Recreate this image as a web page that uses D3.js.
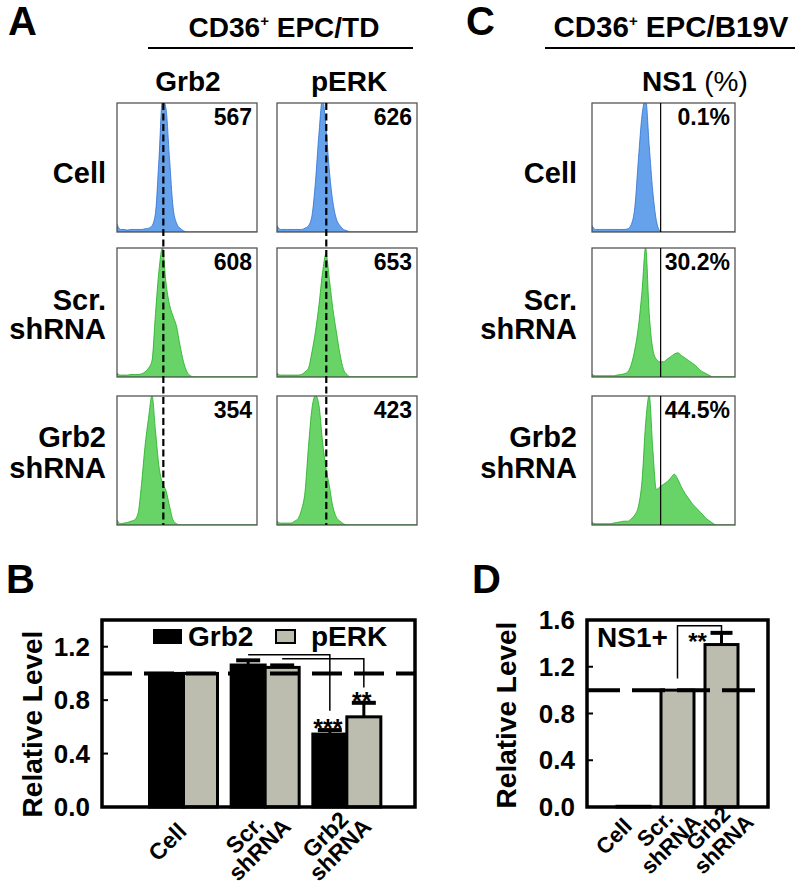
<!DOCTYPE html>
<html><head><meta charset="utf-8">
<script src="https://cdn.jsdelivr.net/npm/d3@7"></script>
<style>
body{margin:0;background:#fff}
svg text{font-family:"Liberation Sans",Arial,sans-serif;font-weight:bold;fill:#000}
</style>
</head><body>
<svg id="c" width="800" height="885"></svg>
<script>
// ---------- DATA ----------
// Flow-cytometry histograms: relative event counts on a 41-point grid across each panel (0..1)
const grb2Cell = [0.06,0.02,0.02,0.015,0.02,0.02,0.02,0.02,0.025,0.03,0.05,0.15,0.58,1.05,0.97,0.58,0.2,0.07,0.03,0.01,0,0,0,0,0,0,0,0,0,0,0,0,0,0,0,0,0,0,0,0,0];
const perkCell = [0.05,0.02,0.02,0.02,0.02,0.02,0.02,0.02,0.03,0.05,0.13,0.4,0.78,1.05,0.82,0.47,0.23,0.1,0.05,0.02,0.01,0,0,0,0,0,0,0,0,0,0,0,0,0,0,0,0,0,0,0,0];
const grb2Scr  = [0.03,0.015,0.015,0.015,0.02,0.02,0.02,0.025,0.04,0.07,0.13,0.5,0.84,1.02,0.74,0.57,0.48,0.4,0.25,0.12,0.04,0.01,0,0,0,0,0,0,0,0,0,0,0,0,0,0,0,0,0,0,0];
const perkScr  = [0.03,0.015,0.015,0.015,0.015,0.015,0.015,0.02,0.04,0.07,0.2,0.36,0.57,0.82,0.97,0.76,0.53,0.35,0.18,0.06,0.02,0,0,0,0,0,0,0,0,0,0,0,0,0,0,0,0,0,0,0,0];
const grb2Sh   = [0.04,0.01,0.015,0.02,0.03,0.04,0.09,0.32,0.62,0.84,1.02,0.74,0.46,0.33,0.27,0.15,0.04,0.01,0,0,0,0,0,0,0,0,0,0,0,0,0,0,0,0,0,0,0,0,0,0,0];
const perkSh   = [0.03,0.015,0.015,0.015,0.015,0.03,0.05,0.12,0.26,0.62,0.92,1.02,0.94,0.66,0.45,0.3,0.14,0.06,0.03,0.01,0,0,0,0,0,0,0,0,0,0,0,0,0,0,0,0,0,0,0,0,0];
const ns1Cell  = [0.05,0.02,0.02,0.02,0.02,0.02,0.02,0.02,0.02,0.02,0.025,0.06,0.2,0.58,0.92,1.05,0.68,0.32,0.09,0.01,0,0,0,0,0,0,0,0,0,0,0,0,0,0,0,0,0,0,0,0,0];
const ns1Scr   = [0.02,0.01,0.01,0.01,0.01,0.01,0.01,0.015,0.02,0.025,0.04,0.1,0.22,0.4,0.68,1.02,0.5,0.22,0.14,0.12,0.12,0.14,0.16,0.18,0.19,0.17,0.15,0.13,0.11,0.09,0.06,0.04,0.025,0.01,0,0,0,0,0,0,0];
const ns1Sh    = [0.02,0.01,0.01,0.01,0.01,0.01,0.015,0.02,0.025,0.03,0.03,0.05,0.08,0.15,0.35,0.8,1.02,0.6,0.28,0.3,0.32,0.34,0.37,0.4,0.36,0.3,0.25,0.21,0.17,0.14,0.11,0.08,0.05,0.03,0.01,0,0,0,0,0,0];

const rowLabels = [["Cell"],["Scr.","shRNA"],["Grb2","shRNA"]];
const mfiGrb2 = ["567","608","354"];
const mfiPerk = ["626","653","423"];
const ns1Pct  = ["0.1%","30.2%","44.5%"];
const refPeakU = [0.331, 0.352];   // dashed reference (cell peak) positions, Grb2 / pERK
const ns1GateU = 0.48;             // NS1 positive gate

// Bar charts
const barCats = ["Cell","Scr. shRNA","Grb2 shRNA"];
const barCatLines = [["Cell"],["Scr.","shRNA"],["Grb2","shRNA"]];
const grb2Level = [1.0, 1.063, 0.546];
const grb2Err   = [0, 0.035, 0.03];
const perkLevel = [1.0, 1.045, 0.675];
const perkErr   = [0, 0.015, 0.105];
const ns1Level  = [0.006, 1.0, 1.39];
const ns1Err    = [0, 0, 0.10];
const yTicksB = [0, 0.4, 0.8, 1.2];
const yTicksD = [0, 0.4, 0.8, 1.2, 1.6];

// ---------- DRAW ----------
const svg = d3.select("#c");
const histU = d3.range(41).map(i => i / 40);
const BLUE = "#66a2ec", BLUE_S = "#2f6fd0", GREEN = "#68d468", GREEN_S = "#1fae1f";
const GREY = "#bcbcaf";
let clipN = 0;

function histogram(x0, y0, w, h, vals, fill, stroke) {
  const id = "clip" + (clipN++);
  svg.append("clipPath").attr("id", id).append("rect").attr("x", x0).attr("y", y0).attr("width", w).attr("height", h);
  const x = d3.scaleLinear().domain([0, 1]).range([x0, x0 + w]);
  const y = d3.scaleLinear().domain([0, 1]).range([y0 + h, y0 + 2]);
  const area = d3.area().x((d, i) => x(histU[i])).y0(y(0)).y1(d => y(d)).curve(d3.curveMonotoneX);
  const g = svg.append("g").attr("clip-path", `url(#${id})`);
  g.append("path").datum(vals).attr("d", area).attr("fill", fill).attr("stroke", stroke).attr("stroke-width", 0.8);
  svg.append("rect").attr("x", x0).attr("y", y0).attr("width", w).attr("height", h)
    .attr("fill", "none").attr("stroke", "#555").attr("stroke-width", 1.3);
  return x;
}

const rowsY = [103, 248, 396], boxH = 129;
const colA = [117, 277], boxW = 140;
const colC = 592, boxWC = 143;
const rowLabelBase = [[183], [310, 339], [447, 478]];

// Panel letters
[["A", 8, 35], ["C", 466, 35], ["B", 6, 593], ["D", 472, 593]].forEach(([t, x, y]) =>
  svg.append("text").attr("x", x).attr("y", y).attr("font-size", 40).text(t));

// Titles
function title(cx, y, rest, x1, x2, fs) {
  const t = svg.append("text").attr("x", cx).attr("y", y).attr("text-anchor", "middle").attr("font-size", fs);
  t.append("tspan").text("CD36");
  t.append("tspan").attr("dy", -11).attr("font-size", 15).text("+");
  t.append("tspan").attr("dy", 11).text(" " + rest);
  svg.append("line").attr("x1", x1).attr("x2", x2).attr("y1", 48).attr("y2", 48).attr("stroke", "#000").attr("stroke-width", 2.2);
}
title(284, 37, "EPC/TD", 148, 413, 28);
title(671, 37, "EPC/B19V", 545, 795, 29.5);

svg.append("text").attr("x", 188).attr("y", 91).attr("text-anchor", "middle").attr("font-size", 28).text("Grb2");
svg.append("text").attr("x", 349).attr("y", 91).attr("text-anchor", "middle").attr("font-size", 28).text("pERK");
const ns1T = svg.append("text").attr("x", 642).attr("y", 91).attr("font-size", 28);
ns1T.append("tspan").text("NS1");
ns1T.append("tspan").attr("font-weight", "normal").text(" (%)");

// Row labels
function rowLabel(xr, i) {
  rowLabels[i].forEach((l, j) => svg.append("text").attr("x", xr).attr("y", rowLabelBase[i][j])
    .attr("text-anchor", "end").attr("font-size", 29).text(l));
}

const histA = [[grb2Cell, perkCell], [grb2Scr, perkScr], [grb2Sh, perkSh]];
const histC = [ns1Cell, ns1Scr, ns1Sh];
const scalesA = [];
rowsY.forEach((ry, r) => {
  rowLabel(106, r);
  rowLabel(577, r);
  const fill = r === 0 ? BLUE : GREEN, st = r === 0 ? BLUE_S : GREEN_S;
  colA.forEach((cx, c) => {
    const x = histogram(cx, ry, boxW, boxH, histA[r][c], fill, st);
    scalesA[c] = x;
    svg.append("text").attr("x", cx + boxW - 5).attr("y", ry + 22).attr("text-anchor", "end")
      .attr("font-size", 23).text(c === 0 ? mfiGrb2[r] : mfiPerk[r]);
  });
  const xc = histogram(colC, ry, boxWC, boxH, histC[r], fill, st);
  svg.append("line").attr("x1", xc(ns1GateU)).attr("x2", xc(ns1GateU)).attr("y1", ry).attr("y2", ry + boxH)
    .attr("stroke", "#000").attr("stroke-width", 1.2);
  svg.append("text").attr("x", colC + boxWC - 5).attr("y", ry + 22).attr("text-anchor", "end")
    .attr("font-size", 23).text(ns1Pct[r]);
});
// dashed reference lines in A
colA.forEach((cx, c) => {
  const xv = scalesA[c](refPeakU[c]);
  svg.append("line").attr("x1", xv).attr("x2", xv).attr("y1", rowsY[0]).attr("y2", rowsY[2] + boxH)
    .attr("stroke", "#000").attr("stroke-width", 2.2).attr("stroke-dasharray", "7,3.5");
});

// ---------- Bar panel helper ----------
function barPanel(o) {
  const y = d3.scaleLinear().domain(o.domain).range([807, 620]);
  const g = svg.append("g");
  o.ticks.forEach(t => {
    g.append("text").attr("x", o.x0 - 12).attr("y", y(t) + 9).attr("text-anchor", "end")
      .attr("font-size", 26).text(d3.format(".1f")(t));
    g.append("line").attr("x1", o.x0).attr("x2", o.x0 + 6).attr("y1", y(t)).attr("y2", y(t))
      .attr("stroke", "#000").attr("stroke-width", 2);
  });
  g.append("text").attr("transform", `translate(${o.labelX},${o.labelY}) rotate(-90)`)
    .attr("text-anchor", "middle").attr("font-size", 28).text("Relative Level");
  return y;
}
function xLabels(pos, yy, size, gap) {
  barCats.forEach((c, i) => {
    const lines = barCatLines[i];
    const g = svg.append("g").attr("transform", `translate(${pos(c, i)},${yy}) rotate(-45)`);
    lines.forEach((l, j) => g.append("text").attr("x", 0)
      .attr("y", lines.length === 1 ? 8 : 8 - gap / 2 + j * gap).attr("text-anchor", "middle").attr("font-size", size).text(l));
  });
}

// ---------- Panel B ----------
const xB = d3.scaleBand().domain(barCats).range([142.5, 387.5]).padding(0);
const subB = d3.scaleBand().domain(["Grb2", "pERK"]).range([7, 75]).padding(0);
const yB = barPanel({domain: [0, 1.4], ticks: yTicksB, x0: 102, labelX: 42, labelY: 724});
const seriesB = [["Grb2", grb2Level, grb2Err, "#000"], ["pERK", perkLevel, perkErr, GREY]];
seriesB.forEach(([name, vals, errs, fill]) => {
  barCats.forEach((c, i) => {
    const bx = xB(c) + subB(name), bw = subB.bandwidth();
    svg.append("rect").attr("x", bx).attr("y", yB(vals[i])).attr("width", bw).attr("height", yB(0) - yB(vals[i]))
      .attr("fill", fill).attr("stroke", "#000").attr("stroke-width", 3);
    if (errs[i] > 0) {
      const cxm = bx + bw / 2;
      svg.append("line").attr("x1", cxm).attr("x2", cxm).attr("y1", yB(vals[i])).attr("y2", yB(vals[i] + errs[i]))
        .attr("stroke", "#000").attr("stroke-width", 3);
      svg.append("line").attr("x1", cxm - 12).attr("x2", cxm + 12).attr("y1", yB(vals[i] + errs[i])).attr("y2", yB(vals[i] + errs[i]))
        .attr("stroke", "#000").attr("stroke-width", 4);
    }
  });
});
svg.append("line").attr("x1", 102).attr("x2", 415).attr("y1", yB(1)).attr("y2", yB(1))
  .attr("stroke", "#000").attr("stroke-width", 4).attr("stroke-dasharray", "30,12");
svg.append("rect").attr("x", 102).attr("y", 620).attr("width", 313).attr("height", 187)
  .attr("fill", "none").attr("stroke", "#000").attr("stroke-width", 3.5);
// legend
svg.append("rect").attr("x", 153).attr("y", 629).attr("width", 29).attr("height", 15).attr("fill", "#000");
svg.append("text").attr("x", 188).attr("y", 646).attr("font-size", 28).text("Grb2");
svg.append("rect").attr("x", 276).attr("y", 630).attr("width", 19).attr("height", 13).attr("fill", GREY)
  .attr("stroke", "#000").attr("stroke-width", 2);
svg.append("text").attr("x", 311).attr("y", 646).attr("font-size", 28).text("pERK");
// significance brackets
function cen(c, s) { return xB(c) + subB(s) + subB.bandwidth() / 2; }
[[cen(barCats[1], "Grb2"), cen(barCats[2], "Grb2"), 1.14, 0.72],
 [cen(barCats[1], "pERK"), cen(barCats[2], "pERK"), 1.11, 0.895]].forEach(([xa, xb2, yTop, yEnd]) => {
  svg.append("path").attr("d", `M${xa},${yB(yTop)}H${xb2}V${yB(yEnd)}`).attr("fill", "none")
    .attr("stroke", "#000").attr("stroke-width", 1.5);
});
svg.append("text").attr("x", cen(barCats[2], "Grb2") - 2).attr("y", 737).attr("text-anchor", "middle").attr("font-size", 25).text("***");
svg.append("text").attr("x", cen(barCats[2], "pERK") - 2).attr("y", 710).attr("text-anchor", "middle").attr("font-size", 25).text("**");
const labelDxB = [-16, -13, -14];
xLabels((c, i) => xB(c) + xB.bandwidth() / 2 + labelDxB[i], 842, 23, 21);

// ---------- Panel D ----------
const xD = d3.scaleBand().domain(barCats).range([617, 738]).paddingInner(0.25).paddingOuter(0);
const yD = barPanel({domain: [0, 1.6], ticks: yTicksD, x0: 587, labelX: 516, labelY: 715});
barCats.forEach((c, i) => {
  const bx = xD(c), bw = xD.bandwidth();
  svg.append("rect").attr("x", bx).attr("y", yD(ns1Level[i])).attr("width", bw).attr("height", yD(0) - yD(ns1Level[i]))
    .attr("fill", GREY).attr("stroke", "#000").attr("stroke-width", 3);
  if (ns1Err[i] > 0) {
    const cxm = bx + bw / 2;
    svg.append("line").attr("x1", cxm).attr("x2", cxm).attr("y1", yD(ns1Level[i])).attr("y2", yD(ns1Level[i] + ns1Err[i]))
      .attr("stroke", "#000").attr("stroke-width", 3);
    svg.append("line").attr("x1", cxm - 11).attr("x2", cxm + 11).attr("y1", yD(ns1Level[i] + ns1Err[i])).attr("y2", yD(ns1Level[i] + ns1Err[i]))
      .attr("stroke", "#000").attr("stroke-width", 4);
  }
});
svg.append("line").attr("x1", 587).attr("x2", 768).attr("y1", yD(1)).attr("y2", yD(1))
  .attr("stroke", "#000").attr("stroke-width", 4).attr("stroke-dasharray", "33,12");
svg.append("rect").attr("x", 587).attr("y", 620).attr("width", 181).attr("height", 187)
  .attr("fill", "none").attr("stroke", "#000").attr("stroke-width", 3.5);
{
  const xa = xD(barCats[1]) + xD.bandwidth() / 2, xb2 = xD(barCats[2]) + xD.bandwidth() / 2;
  svg.append("path").attr("d", `M${xa},${yD(1.1)}V${yD(1.55)}H${xb2}V${yD(1.5)}`).attr("fill", "none")
    .attr("stroke", "#000").attr("stroke-width", 1.5);
  svg.append("text").attr("x", (xa + xb2) / 2 - 2).attr("y", 650).attr("text-anchor", "middle").attr("font-size", 24).text("**");
}
svg.append("text").attr("x", 597).attr("y", 647).attr("font-size", 28).text("NS1+");
const labelDxD = [-20, -15, -6];
xLabels((c, i) => xD(c) + xD.bandwidth() / 2 + labelDxD[i], 836, 22, 22);
</script>
</body></html>
